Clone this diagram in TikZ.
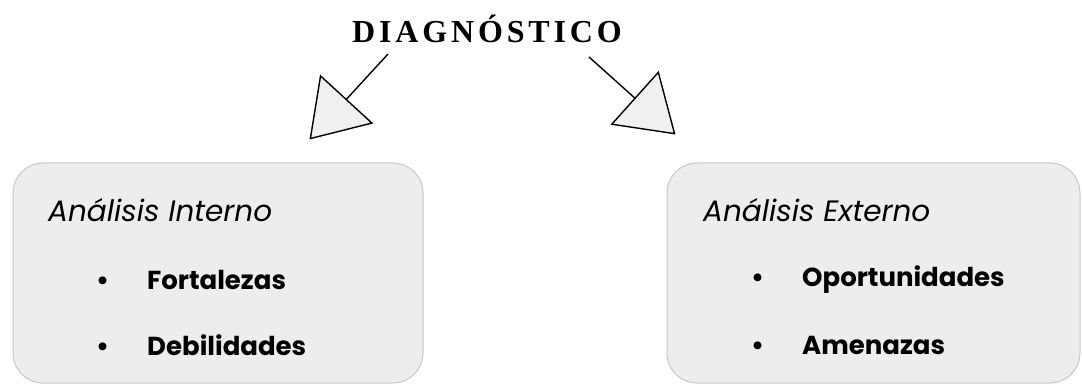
\documentclass[tikz,border=0pt]{standalone}
\usepackage{fontspec}
\setmainfont{Liberation Serif}
\newfontfamily\boxfont{Poppins}
\usetikzlibrary{arrows.meta,positioning}

\tikzset{
  box/.style={draw=black!22, line width=1pt, fill=black!7, rounded corners=30pt,
    minimum height=220pt},
  heading/.style={inner sep=0pt, anchor=west, font=\boxfont\itshape\fontsize{29.5}{31}\selectfont},
  entry/.style={inner sep=0pt, anchor=west, font=\boxfont\bfseries\fontsize{26}{28}\selectfont},
  bigarrow/.style={line width=1.4pt, -{Triangle[length=55pt, width=72pt, fill=black!6]}}
}

\begin{document}
\begin{tikzpicture}[x=1pt, y=-1pt]
		\useasboundingbox (0,0) rectangle (1082,385);

		% title
		\node[inner sep=0pt, anchor=base, font=\bfseries\fontsize{32}{34}\selectfont\addfontfeatures{LetterSpace=12}] (title) at (487,43) {DIAGNÓSTICO};

		% boxes
		\node[box, minimum width=410pt] (intbox) at (218,273) {};
		\node[box, minimum width=413pt] (extbox) at (873.5,273) {};

		% internal analysis
		\node[heading] (inthead) at (48,210) {Análisis Interno};
		\node[entry] (fort) at (96,280) {\makebox[51pt][l]{\textbullet}Fortalezas};
		\node[entry] (debil) at (96,345) {\makebox[51pt][l]{\textbullet}Debilidades};

		% external analysis
		\node[heading] (exthead) at (703,210) {Análisis Externo};
		\node[entry] (oport) at (751,280) {\makebox[51pt][l]{\textbullet}Oportunidades};
		\node[entry] (amen) at (751,345) {\makebox[51pt][l]{\textbullet}Amenazas};

		% arrows
		\coordinate (ltip) at ([xshift=297pt,yshift=23pt]intbox.north west);
		\coordinate (rtip) at ([xshift=9pt,yshift=28pt]extbox.north west);
		\draw[bigarrow] ([xshift=-99pt,yshift=-11pt]title.base) -- (ltip);
		\draw[bigarrow] ([xshift=102pt,yshift=-14pt]title.base) -- (rtip);
\end{tikzpicture}
\end{document}
